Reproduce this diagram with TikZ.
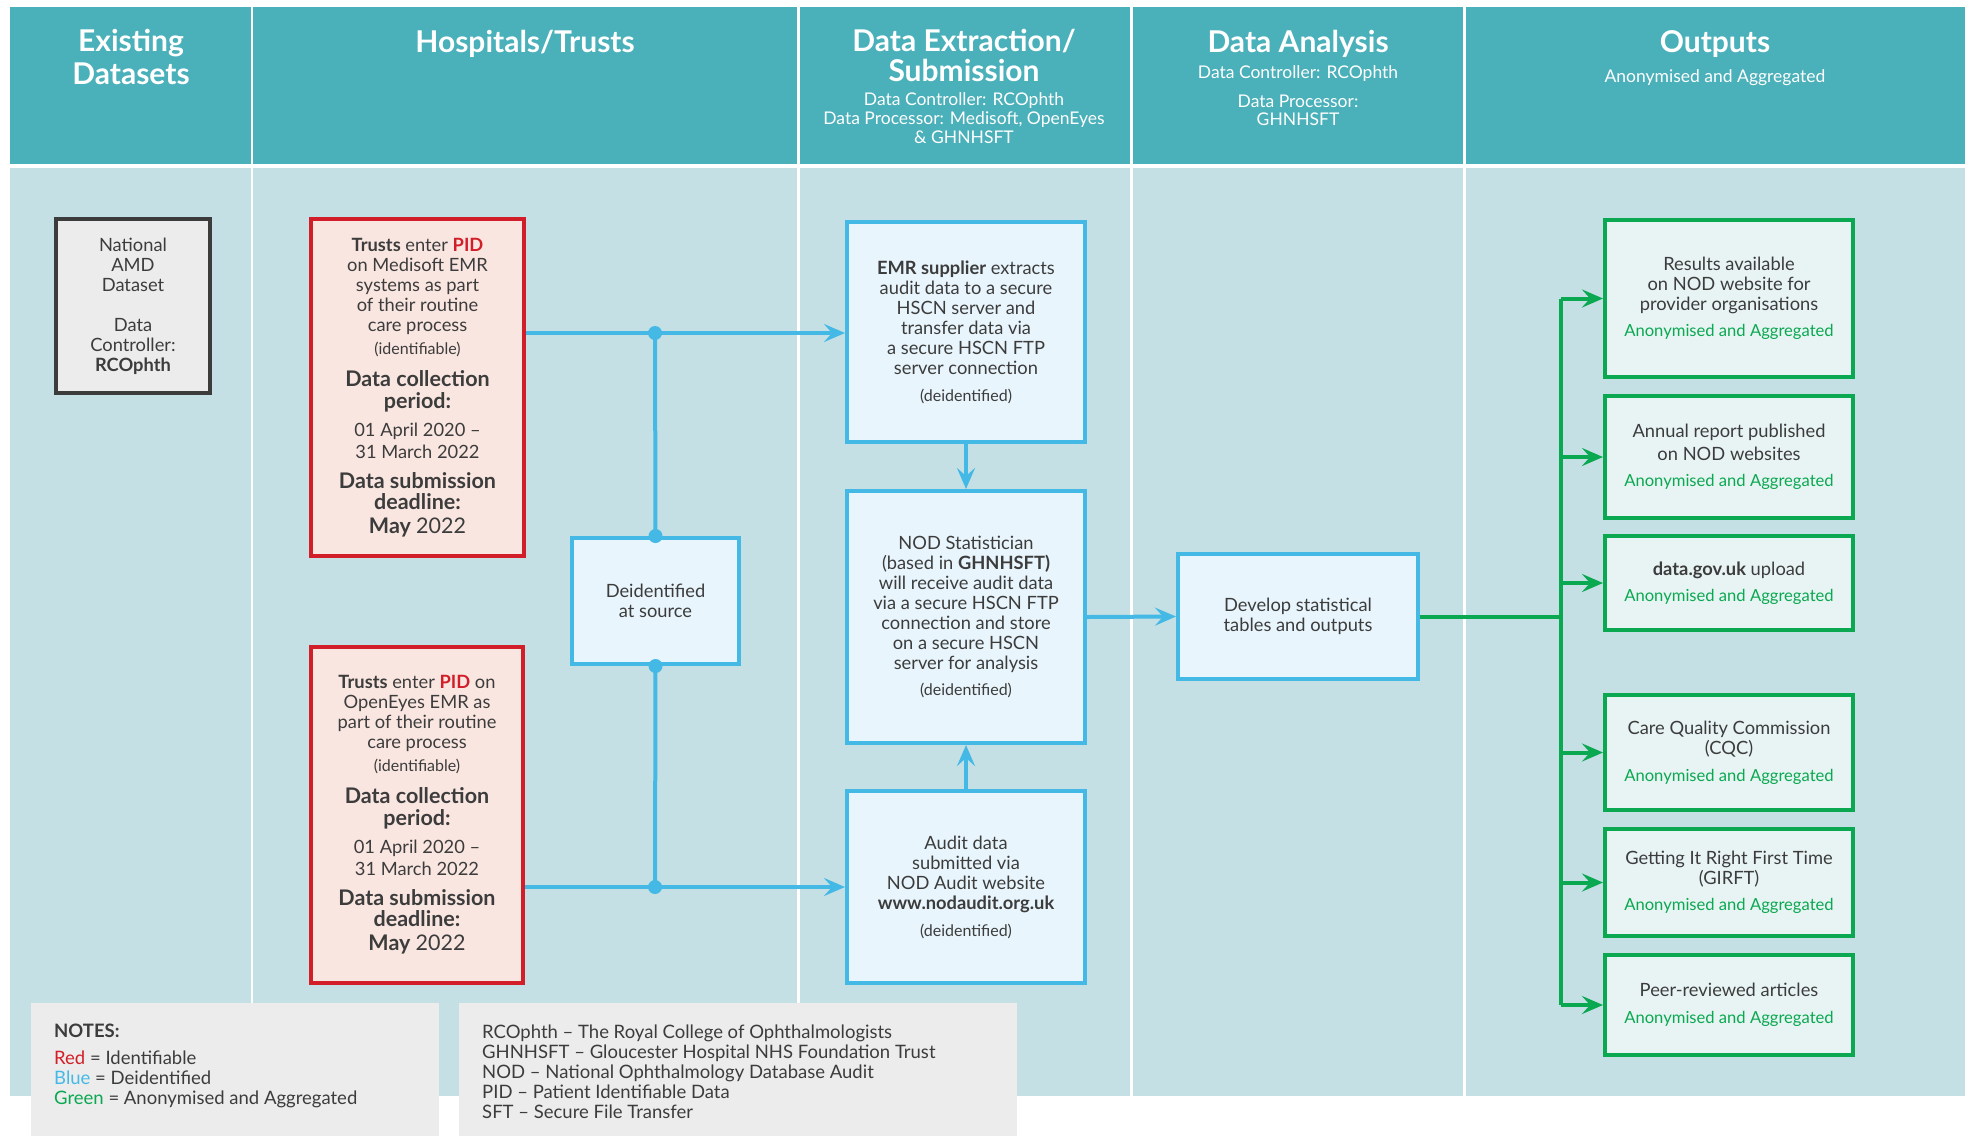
\documentclass[tikz,border=0pt]{standalone}
\usepackage{fontspec}
\setmainfont{Lato}
\usepackage{xcolor}
\usetikzlibrary{arrows.meta}

\definecolor{headteal}{RGB}{74,176,186}
\definecolor{bodyblue}{RGB}{196,224,228}
\definecolor{ink}{RGB}{60,60,60}
\definecolor{nodred}{RGB}{210,30,40}
\definecolor{redfill}{RGB}{250,230,225}
\definecolor{nodblue}{RGB}{69,185,230}
\definecolor{bluefill}{RGB}{232,245,252}
\definecolor{nodgreen}{RGB}{10,168,80}
\definecolor{greenfill}{RGB}{232,244,244}
\definecolor{notegrey}{RGB}{236,236,236}
\definecolor{greyline}{RGB}{60,60,60}

\newcommand\fsHead{\fontsize{30}{33}\selectfont\bfseries}
\newcommand\fsSub{\fontsize{17.5}{19}\selectfont}
\newcommand\fsBody{\fontsize{18.3}{20}\selectfont}
\newcommand\fsBold{\fontsize{21.5}{22}\selectfont\bfseries}
\newcommand\fsSmall{\fontsize{16}{17}\selectfont}
\newcommand\fsAgg{\fontsize{16.6}{18}\selectfont\color{nodgreen}}
\newcommand\fsNote{\fontsize{18.5}{20}\selectfont}

\tikzset{
  headtxt/.style={text=white, font=\fsHead, align=center, inner sep=0pt},
  subtxt/.style={text=white, font=\fsSub, align=center, inner sep=0pt},
  boxbase/.style={line width=4pt, inner sep=0pt, align=center, text=ink, font=\fsBody},
  greybox/.style={boxbase, draw=greyline, fill=notegrey},
  redbox/.style={boxbase, draw=nodred, fill=redfill},
  bluebox/.style={boxbase, draw=nodblue, fill=bluefill},
  greenbox/.style={boxbase, draw=nodgreen, fill=greenfill, minimum width=248pt},
  bline/.style={draw=nodblue, line width=4pt},
  barrow/.style={bline, -{Stealth[length=21pt,width=18pt,inset=8pt]}},
  gline/.style={draw=nodgreen, line width=4pt},
  garrow/.style={gline, -{Stealth[length=21pt,width=18pt,inset=8pt]}},
  notetxt/.style={text=ink, font=\fsNote, align=left, inner sep=0pt}
}

\begin{document}
\begin{tikzpicture}[x=1pt,y=-1pt]
\useasboundingbox (0,0) rectangle (1969,1136);

% columns
\foreach \xa/\xb in {10/251,253/797,800/1130,1133/1463,1466/1965}{
\fill[headteal] (\xa,7) rectangle (\xb,164);
\fill[bodyblue] (\xa,168) rectangle (\xb,1096);
}

% headings
\node[headtxt] (hexist) at (131,57) {Existing\\Datasets};
\node[headtxt] (hhosp) at (525,44) {Hospitals/Trusts};
\node[headtxt] (hextr) at (964,55) {Data Extraction/\\[-3pt]Submission};
\node[subtxt] (hextrsub) at (964,118) {Data Controller: RCOphth\\Data Processor: Medisoft, OpenEyes\\\& GHNHSFT};
\node[headtxt] (hanal) at (1298,44) {Data Analysis};
\node[subtxt] (hanalc) at (1298,74) {Data Controller: RCOphth};
\node[subtxt] (hanalp) at (1298,110) {Data Processor:\\[-1pt]GHNHSFT};
\node[headtxt] (hout) at (1715,44) {Outputs};
\node[subtxt] (houtsub) at (1715,78) {Anonymised and Aggregated};

% existing dataset
\node[greybox, minimum width=154pt, minimum height=174pt] (amd) at (133,306)
  {National\\AMD\\Dataset\\[20pt]Data\\Controller:\\\textbf{RCOphth}};

% trusts
\node[redbox, minimum width=213pt, minimum height=337pt] (red1) at (417.5,387.5)
  {\textbf{Trusts} enter \textcolor{nodred}{\textbf{PID}}\\on Medisoft EMR\\systems as part\\of their routine\\care process\\[3pt]
   \fsSmall (identifiable)\\[12pt]\fsBold Data collection\\[2pt]\fsBold period:\\[8pt]
   01 April 2020 --\\[2pt]31 March 2022\\[10pt]\fsBold Data submission\\[1pt]\fsBold deadline:\\[4pt]\fsBold May {\mdseries 2022}};
\node[redbox, minimum width=212pt, minimum height=336pt] (red2) at (417,815)
  {\textbf{Trusts} enter \textcolor{nodred}{\textbf{PID}} on\\OpenEyes EMR as\\part of their routine\\care process\\[3pt]
   \fsSmall (identifiable)\\[12pt]\fsBold Data collection\\[2pt]\fsBold period:\\[8pt]
   01 April 2020 --\\[2pt]31 March 2022\\[10pt]\fsBold Data submission\\[1pt]\fsBold deadline:\\[4pt]\fsBold May {\mdseries 2022}};
\node[bluebox, minimum width=167pt, minimum height=126pt] (deid) at (655.5,601) {Deidentified\\at source};

% extraction / submission
\node[bluebox, minimum width=238pt, minimum height=220pt] (emr) at (966,332)
  {\textbf{EMR supplier} extracts\\audit data to a secure\\HSCN server and\\transfer data via\\a secure HSCN FTP\\server connection\\[7pt]\fsSmall (deidentified)};
\node[bluebox, minimum width=238pt, minimum height=252pt] (nod) at (966,617)
  {NOD Statistician\\(based in \textbf{GHNHSFT)}\\will receive audit data\\via a secure HSCN FTP\\connection and store\\on a secure HSCN\\server for analysis\\[6pt]\fsSmall (deidentified)};
\node[bluebox, minimum width=238pt, minimum height=192pt] (audit) at (966,887)
  {Audit data\\submitted via\\NOD Audit website\\\textbf{www.nodaudit.org.uk}\\[7pt]\fsSmall (deidentified)};

% analysis
\node[bluebox, minimum width=240pt, minimum height=125pt] (dev) at (1298,616.5) {Develop statistical\\tables and outputs};

% outputs
\node[greenbox, minimum height=157pt] (o1) at (1729,298.5)
  {Results available\\on NOD website for\\provider organisations\\[6pt]\fsAgg Anonymised and Aggregated};
\node[greenbox, minimum height=122pt] (o2) at (1729,457)
  {Annual report published\\[3pt]on NOD websites\\[6pt]\fsAgg Anonymised and Aggregated};
\node[greenbox, minimum height=94pt] (o3) at (1729,583)
  {\textbf{data.gov.uk} upload\\[6pt]\fsAgg Anonymised and Aggregated};
\node[greenbox, minimum height=115pt] (o4) at (1729,752.5)
  {Care Quality Commission\\(CQC)\\[7pt]\fsAgg Anonymised and Aggregated};
\node[greenbox, minimum height=107pt] (o5) at (1729,882.5)
  {Getting It Right First Time\\(GIRFT)\\[6pt]\fsAgg Anonymised and Aggregated};
\node[greenbox, minimum height=100pt] (o6) at (1729,1005)
  {Peer-reviewed articles\\[7pt]\fsAgg Anonymised and Aggregated};

% blue connectors
\coordinate (j1) at (655,333);
\coordinate (j2) at (655,887);
\draw[bline] (red1.east |- j1) -- (j1);
\draw[barrow] (j1) -- (emr.west |- j1);
\draw[bline] (j1) -- (deid.north);
\draw[bline] (deid.south) -- (j2);
\draw[bline] (red2.east |- j2) -- (j2);
\draw[barrow] (j2) -- (audit.west |- j2);
\foreach \p in {j1,j2,deid.north,deid.south}{
\fill[nodblue] (\p) circle (7pt);
}
\draw[barrow] (emr) -- (nod);
\draw[barrow] (audit) -- (nod);
\draw[barrow] (nod.east) -- (dev.west);

% green connectors
\coordinate (gtop) at (1561,298.5);
\coordinate (gbot) at (1561,1005);
\draw[gline] (dev.east) -- (dev.east -| gtop);
\draw[gline] (gtop) -- (gbot);
\foreach \o in {o1,o2,o3,o4,o5,o6}{
\draw[garrow] (gtop |- \o) -- (\o.west);
}

% notes
\fill[notegrey] (31,1003) rectangle (439,1136);
\fill[notegrey] (459,1003) rectangle (1017,1136);
\node[notetxt, anchor=west] (legend) at (54,1066)
  {\textbf{NOTES:}\\[7pt]\textcolor{nodred}{Red} = Identifiable\\\textcolor{nodblue}{Blue} = Deidentified\\\textcolor{nodgreen}{Green} = Anonymised and Aggregated};
\node[notetxt, anchor=west] (abbr) at (482,1071.5)
  {RCOphth -- The Royal College of Ophthalmologists\\GHNHSFT -- Gloucester Hospital NHS Foundation Trust\\NOD -- National Ophthalmology Database Audit\\PID -- Patient Identifiable Data\\SFT -- Secure File Transfer};
\end{tikzpicture}
\end{document}
